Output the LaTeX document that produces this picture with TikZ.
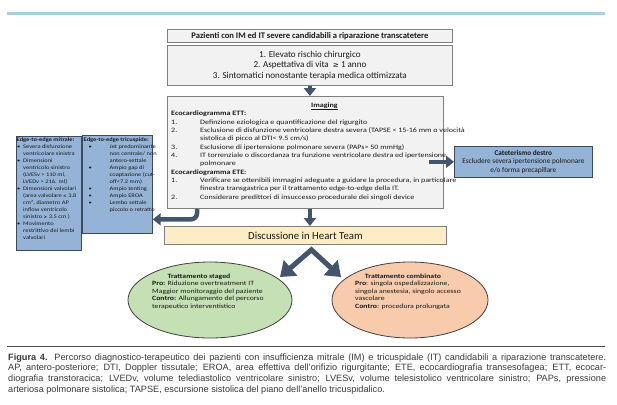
\documentclass[tikz,border=0pt]{standalone}
\usepackage{fontspec}
\setmainfont{Carlito}
\newfontfamily\cwa{Carlito}[FakeStretch=1.2]
\newfontfamily\capfont{Liberation Sans}
\newfontfamily\symf{DejaVu Sans}
\usetikzlibrary{arrows.meta,shapes.geometric,calc}
\definecolor{arrcol}{HTML}{44546A}
\definecolor{boxfill}{HTML}{F2F2F2}
\definecolor{boxline}{HTML}{7F7F7F}
\definecolor{bluefill}{HTML}{95B3D7}
\definecolor{blueline}{HTML}{3B4A5E}
\definecolor{discfill}{HTML}{FDEDC4}
\definecolor{greenfill}{HTML}{C5E0B4}
\definecolor{orangefill}{HTML}{F8CBAD}
\definecolor{barcol}{HTML}{A5CFE3}
\definecolor{captext}{HTML}{3A3A3A}
\definecolor{txt}{HTML}{1A1A1A}
\newcommand{\geqs}{{\symf\fontsize{0.8em}{1em}\selectfont ≥}}
\newcommand{\leqs}{{\symf\fontsize{0.8em}{1em}\selectfont ≤}}
\newcommand{\smallfnt}{\cwa\fontsize{5.4}{7.0}\selectfont}
\newcommand{\imgfnt}{\cwa\fontsize{6.7}{8.35}\selectfont}
\newcommand{\ellfnt}{\cwa\fontsize{6.5}{7.6}\selectfont}
\begin{document}
\begin{tikzpicture}[x=1bp,y=-1bp,
  graybox/.style={draw=boxline, fill=boxfill, line width=0.8bp, inner sep=0, anchor=north west},
  bluebox/.style={draw=blueline, fill=bluefill, line width=0.7bp, inner sep=0, anchor=north west},
  arr/.style={draw=arrcol, line width=4.5bp, -{Triangle[width=12bp,length=8bp]}},
  bigarr/.style={draw=arrcol, line width=5bp, line join=miter, {Triangle[width=20bp,length=14bp]}-{Triangle[width=20bp,length=14bp]}},
  ell/.style={ellipse, draw=black!75, line width=0.8bp, inner sep=0, minimum height=76bp},
  txtnode/.style={inner sep=0, anchor=base west, text=txt},
  every node/.style={text=txt}]
\useasboundingbox (0,0) rectangle (617,404);
\fill[white] (0,0) rectangle (617,404);
% top bar
\draw[barcol, line width=3bp] (7,13.5) -- (605,13.5);

% boxes
\node[graybox, minimum width=285bp, minimum height=13bp, font=\fontsize{8.6}{9}\selectfont] (top) at (167,29)
  {\textbf{Pazienti con IM ed IT severe candidabili a riparazione transcatetere}};
\node[graybox, minimum width=285bp, minimum height=40bp, align=center, font=\fontsize{9.1}{10.5}\selectfont] (crit) at (167,45)
  {1. Elevato rischio chirurgico\\2. Aspettativa di vita\ \ \geqs\ 1 anno\\3. Sintomatici nonostante terapia medica ottimizzata};
\node[graybox, minimum width=276bp, minimum height=112bp] (imaging) at (167,96) {};
\node[txtnode, font=\imgfnt] (imgtxt) at (171,107) {\begin{tabular}[t]{@{}p{29bp}@{}l@{}}
\multicolumn{2}{@{}c@{}}{\hspace{13bp}\textbf{\underline{Imaging}}}\\
\multicolumn{2}{@{}l@{}}{\textbf{Ecocardiogramma ETT:}}\\
1. & Definzione eziologica e quantificazione del rigurgito\\
2. & Esclusione di disfunzione ventricolare destra severa (TAPSE < 15-16 mm o velocità\\
   & sistolica di picco al DTI< 9.5 cm/s)\\
3. & Esclusione di ipertensione polmonare severa (PAPs> 50 mmHg)\\
4. & IT torrenziale o discordanza tra funzione ventricolare destra ed ipertensione\\
   & polmonare\\
\multicolumn{2}{@{}l@{}}{\textbf{Ecocardiogramma ETE:}}\\
1. & Verificare se ottenibili immagini adeguate a guidare la procedura, in particolare\\
   & finestra transgastrica per il trattamento edge-to-edge della IT.\\
2. & Considerare predittori di insuccesso procedurale dei singoli device
\end{tabular}};

\node[draw=boxline, fill=discfill, line width=0.8bp, inner sep=0, anchor=north west,
  minimum width=282bp, minimum height=18bp, font=\fontsize{10.8}{12}\selectfont] (disc) at (164,226) {Discussione in Heart Team};

% blue boxes
\node[bluebox, minimum width=65bp, minimum height=114bp] (mitr) at (16,136) {};
\node[bluebox, minimum width=70bp, minimum height=98bp] (tric) at (82,135) {};
\node[txtnode, font=\smallfnt] (mitrtxt) at (16.5,141.5) {\begin{tabular}[t]{@{\hspace{0.5bp}}p{6bp}@{}l@{}}
\multicolumn{2}{@{}l@{}}{\textbf{Edge-to-edge mitrale:}}\\
\textbullet & Severa disfunzione\\
 & ventricolare sinistra\\
\textbullet & Dimensioni\\
 & ventricolo sinistro\\
 & (LVESv > 110 ml,\\
 & LVEDv > 216. ml)\\
\textbullet & Dimensioni valvolari\\
 & (area valvolare \leqs\ 3.8\\
 & cm², diametro AP\\
 & inflow ventricolo\\
 & sinistro \geqs\ 3.5 cm )\\
\textbullet & Movimento\\
 & restrittivo dei lembi\\
 & valvolari
\end{tabular}};
\node[txtnode, font=\smallfnt] (trictxt) at (83.5,141.5) {\begin{tabular}[t]{@{\hspace{5bp}}p{21bp}@{}l@{}}
\multicolumn{2}{@{}l@{}}{\textbf{Edge-to-edge tricuspide:}}\\
\textbullet & Jet predominante\\
 & non centrale/ non\\
 & antero-settale\\
\textbullet & Ampio gap di\\
 & coaptazione (cut-\\
 & off<7.2 mm)\\
\textbullet & Ampio tenting\\
\textbullet & Ampio EROA\\
\textbullet & Lembo settale\\
 & piccolo o retratto
\end{tabular}};
\node[bluebox, minimum width=138bp, minimum height=31bp, align=center, font=\fontsize{7.3}{8.5}\selectfont] (cat) at (454,146)
  {\textbf{Cateterismo destro}\\Escludere severa ipertensione polmonare\\e/o forma precapillare};

% ellipses
\node[ell, fill=greenfill, minimum width=164bp] (green) at (210,300) {};
\node[ell, fill=orangefill, minimum width=156bp] (orange) at (410,300) {};
\node[inner sep=0, anchor=base, font=\ellfnt\bfseries] (greent) at (199,278) {Trattamento staged};
\node[txtnode, font=\ellfnt] (greenb) at (152,285.5) {\begin{tabular}[t]{@{}l@{}}
\textbf{Pro:} Riduzione overtreatment IT\\
Maggior monitoraggio del paziente\\
\textbf{Contro:} Allungamento del percorso\\
terapeutico interventistico
\end{tabular}};
\node[inner sep=0, anchor=base, font=\ellfnt\bfseries] (oranget) at (403,278) {Trattamento combinato};
\node[txtnode, font=\ellfnt] (orangeb) at (355,285.5) {\begin{tabular}[t]{@{}l@{}}
\textbf{Pro}: singola ospedalizzazione,\\
singola anestesia, singolo accesso\\
vascolare\\
\textbf{Contro}: procedura prolungata
\end{tabular}};

% arrows
\draw[arr] (crit.south) -- (crit.south |- imaging.north);
\draw[arr] (crit.south |- imaging.south) -- (crit.south |- disc.north);
\coordinate (hs) at ($(imaging.south west)+(30,0)$);
\path (tric.east) ++(0,35) coordinate (he);
\draw[arr, rounded corners=6bp] (hs) |- (he);
\coordinate (rs) at ($(imaging.east |- cat.west)+(-15,0)$);
\draw[arr] (rs) -- (cat.west);
\coordinate (apex) at ($(disc.south)+(6,5)$);
\coordinate (tl) at (280,277);
\coordinate (tr) at (341,277);
\draw[bigarr] (tl) -- (apex) -- (tr);

% caption
\draw[black!70, line width=0.6bp] (7,346) -- (605,346);
\node[inner sep=0, anchor=base west, text=captext] (cap) at (8,360) {\parbox[t]{598bp}{\capfont\fontsize{9.2}{11}\selectfont
\tolerance=10000 \hyphenpenalty=10000 \exhyphenpenalty=10000 \parindent=0pt
\textbf{Figura 4.} Percorso diagnostico-terapeutico dei pazienti con insufficienza mitrale (IM) e tricuspidale (IT) candidabili a riparazione transcatetere.\linebreak
AP, antero-posteriore; DTI, Doppler tissutale; EROA, area effettiva dell’orifizio rigurgitante; ETE, ecocardiografia transesofagea; ETT, ecocar-\linebreak
diografia transtoracica; LVEDv, volume telediastolico ventricolare sinistro; LVESv, volume telesistolico ventricolare sinistro; PAPs, pressione\linebreak
arteriosa polmonare sistolica; TAPSE, escursione sistolica del piano dell’anello tricuspidalico.}};
\end{tikzpicture}
\end{document}
